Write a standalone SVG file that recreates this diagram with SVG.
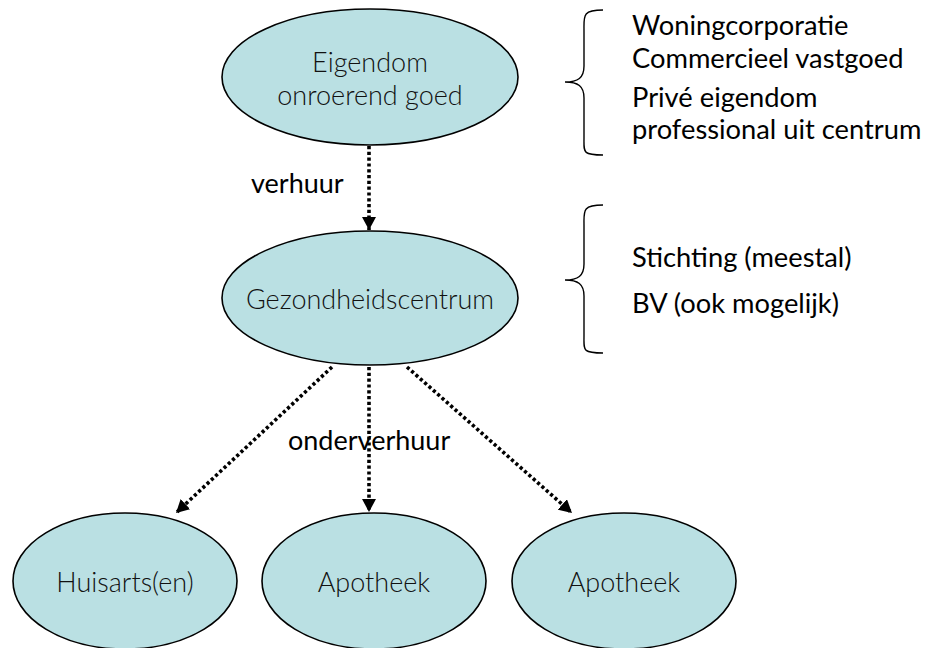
<svg xmlns="http://www.w3.org/2000/svg" width="926" height="648" viewBox="0 0 926 648">
<style>
.node ellipse{fill:#bae0e3;stroke:#000;stroke-width:1.6}
.node text{font-family:Lato,"Open Sans",sans-serif;font-size:27px;font-weight:300;fill:#111;text-anchor:middle}
.lbl{font-family:Lato,"Open Sans",sans-serif;font-size:27px;fill:#000}
.side{font-family:Lato,"Open Sans",sans-serif;font-size:27.3px;fill:#000}
.conn{stroke:#000;stroke-width:3.6;stroke-dasharray:3.2 2.6;fill:none;marker-end:url(#ah)}
.brace{fill:none;stroke:#000;stroke-width:1.4}
</style>
<defs>
<marker id="ah" markerUnits="userSpaceOnUse" markerWidth="14" markerHeight="14" refX="12" refY="6.5" orient="auto" viewBox="0 0 13 13">
<path d="M0,0 L12,6.5 L0,13 z" fill="#000"/>
</marker>
</defs>
<g id="connectors">
<line class="conn" x1="369" y1="146" x2="369" y2="230"/>
<line class="conn" x1="332" y1="367" x2="176" y2="513"/>
<line class="conn" x1="369" y1="367" x2="369" y2="512"/>
<line class="conn" x1="407" y1="367" x2="572" y2="513"/>
</g>
<g id="n-eigendom" class="node">
<ellipse cx="370" cy="77" rx="148" ry="68"/>
<text x="370" y="72">Eigendom</text>
<text x="370" y="105">onroerend goed</text>
</g>
<g id="n-gezondheidscentrum" class="node">
<ellipse cx="370" cy="298" rx="148" ry="67"/>
<text x="370" y="309">Gezondheidscentrum</text>
</g>
<g id="n-huisarts" class="node">
<ellipse cx="125" cy="581" rx="112" ry="68"/>
<text x="125" y="592">Huisarts(en)</text>
</g>
<g id="n-apotheek1" class="node">
<ellipse cx="374" cy="581" rx="112" ry="68"/>
<text x="374" y="592">Apotheek</text>
</g>
<g id="n-apotheek2" class="node">
<ellipse cx="624" cy="581" rx="112" ry="68"/>
<text x="624" y="592">Apotheek</text>
</g>
<g id="labels">
<text class="lbl" x="251" y="193">verhuur</text>
<text class="lbl" x="288" y="450">onderverhuur</text>
</g>
<g id="owners">
<path class="brace" d="M603,10 C582,10 584,16 584,30 L584,66 C584,78 578,82 565,82 C578,82 584,86 584,98 L584,138 C584,152 582,155 603,155"/>
<text class="side" x="632" y="35">Woningcorporatie</text>
<text class="side" x="632" y="68">Commercieel vastgoed</text>
<text class="side" x="632" y="107">Privé eigendom</text>
<text class="side" x="632" y="139">professional uit centrum</text>
</g>
<g id="entity">
<path class="brace" d="M603,205 C582,205 584,211 584,225 L584,264 C584,276 578,280 565,280 C578,280 584,284 584,296 L584,336 C584,350 582,353 603,353"/>
<text class="side" x="632" y="267">Stichting (meestal)</text>
<text class="side" x="632" y="313">BV (ook mogelijk)</text>
</g>
</svg>
